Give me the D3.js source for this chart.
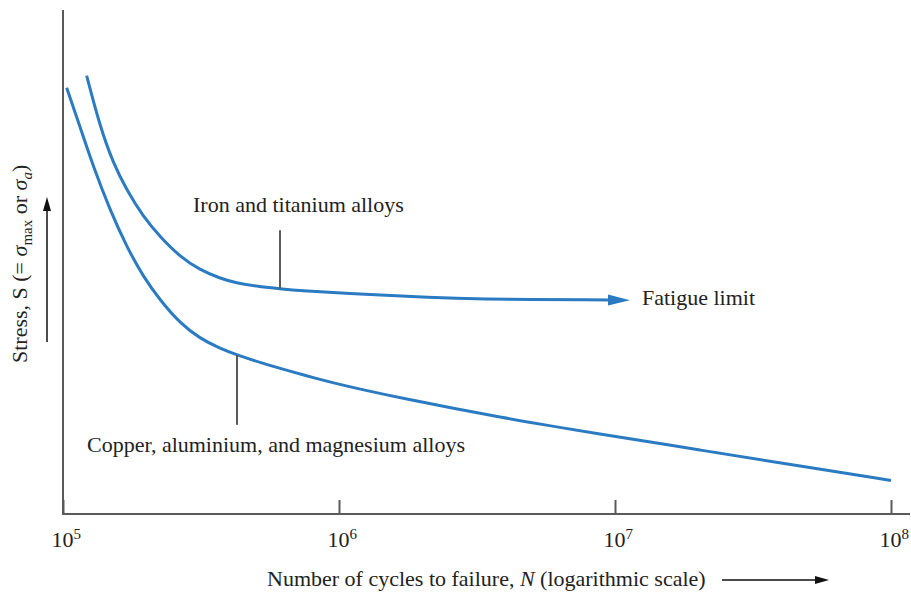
<!DOCTYPE html>
<html>
<head>
<meta charset="utf-8">
<script src="https://cdn.jsdelivr.net/npm/d3@7"></script>
<style>
  html, body { margin: 0; padding: 0; background: #fff; }
  svg { display: block; font-family: 'Liberation Serif', 'Times New Roman', serif; }
  .curve { fill: none; stroke: #2a7bc1; stroke-width: 3; }
  .axis-line, .leader { stroke: #5a5a5a; stroke-width: 2; }
</style>
</head>
<body>
<svg id="chart" width="911" height="597"></svg>
<script>
// S-N curves, stress in arbitrary units (0-100), cycles on log scale
const ironCycles = [1.218e5, 1.362e5, 1.521e5, 1.701e5, 1.954e5, 2.246e5, 2.654e5, 3.136e5, 3.706e5,
  4.26e5, 5.175e5, 6.113e5, 7.224e5, 1.008e6, 2.322e6, 2.91e6, 9.43e6];
const ironStress = [86.97, 76.85, 69.58, 64.29, 58.99, 55.02, 51.05, 48.41, 46.77,
  45.77, 45.1, 44.7, 44.31, 43.85, 42.86, 42.66, 42.46];

const copperCycles = [1.031e5, 1.152e5, 1.288e5, 1.48e5, 1.701e5, 1.954e5, 2.246e5, 2.654e5, 3.136e5,
  3.706e5, 4.27e5, 5.175e5, 6.81e5, 8.05e5, 1.017e6, 1.663e6, 3.831e6, 8.825e6, 2.032e7, 4.681e7, 1.0e8];
const copperStress = [84.58, 76.85, 68.91, 60.32, 53.04, 47.08, 42.46, 37.84, 34.82,
  32.84, 31.55, 30.06, 28.17, 27.08, 25.6, 23.02, 19.15, 15.87, 12.7, 9.52, 6.65];

const tickValues = [1e5, 1e6, 1e7, 1e8];
const tickExponents = ['5', '6', '7', '8'];

// leader lines: [cycles, stress at curve, stress at label end]
const ironLeader = [6.113e5, 44.7, 56.3];
const copperLeader = [4.27e5, 31.55, 17.7];

const width = 911;
const height = 597;
const x0 = 63;
const x1 = 891;
const yTop = 10;
const yBase = 514;

const svg = d3.select('#chart');

const x = d3.scaleLog().domain([1e5, 1e8]).range([x0, x1]);
const y = d3.scaleLinear().domain([0, 100]).range([yBase, yTop]);

const defs = svg.append('defs');
defs.append('marker')
  .attr('id', 'blue-head')
  .attr('markerUnits', 'userSpaceOnUse')
  .attr('markerWidth', 22)
  .attr('markerHeight', 12)
  .attr('refX', 0)
  .attr('refY', 6)
  .attr('orient', 'auto')
  .append('path')
  .attr('d', 'M0,0.5 L22,6 L0,11.5 Z')
  .attr('fill', '#2a7bc1');

defs.append('marker')
  .attr('id', 'black-head')
  .attr('markerUnits', 'userSpaceOnUse')
  .attr('markerWidth', 14)
  .attr('markerHeight', 10)
  .attr('refX', 0)
  .attr('refY', 5)
  .attr('orient', 'auto')
  .append('path')
  .attr('d', 'M0,1 L14,5 L0,9 Z')
  .attr('fill', '#111');

// axes
svg.append('line')
  .attr('class', 'axis-line')
  .attr('x1', x0).attr('x2', x0)
  .attr('y1', yTop).attr('y2', yBase + 1);

svg.append('line')
  .attr('class', 'axis-line')
  .attr('x1', x0 - 1).attr('x2', 910)
  .attr('y1', yBase).attr('y2', yBase);

const xAxis = svg.append('g')
  .attr('transform', `translate(0,${yBase})`)
  .call(d3.axisBottom(x).tickValues(tickValues).tickSizeInner(-14).tickSizeOuter(0).tickFormat(''));
xAxis.select('.domain').remove();
xAxis.selectAll('.tick line').attr('stroke', '#5a5a5a').attr('stroke-width', 2);

const tickLabels = svg.append('g').attr('font-size', 22).attr('fill', '#222');
tickValues.forEach((v, i) => {
  const t = tickLabels.append('text')
    .attr('x', x(v) - 11.5)
    .attr('y', 547);
  t.append('tspan').text('10');
  t.append('tspan').attr('font-size', 15).attr('dy', -8).text(tickExponents[i]);
});

// curves (basis spline smooths out reading noise)
const line = d3.line()
  .x((d) => x(d[0]))
  .y((d) => y(d[1]))
  .curve(d3.curveBasis);

svg.append('path')
  .datum(d3.zip(copperCycles, copperStress))
  .attr('class', 'curve')
  .attr('d', line);

svg.append('path')
  .datum(d3.zip(ironCycles, ironStress))
  .attr('class', 'curve')
  .attr('marker-end', 'url(#blue-head)')
  .attr('d', line);

// leaders
[ironLeader, copperLeader].forEach(([n, s0, s1]) => {
  svg.append('line')
    .attr('class', 'leader')
    .attr('x1', x(n)).attr('x2', x(n))
    .attr('y1', y(s0)).attr('y2', y(s1));
});

// annotation texts
const notes = svg.append('g').attr('font-size', 22).attr('fill', '#222');
notes.append('text').attr('x', 193).attr('y', 212).text('Iron and titanium alloys');
notes.append('text').attr('x', 642).attr('y', 305).text('Fatigue limit');
notes.append('text').attr('x', 87).attr('y', 452).text('Copper, aluminium, and magnesium alloys');

// x label
const xLabel = svg.append('text')
  .attr('x', 267)
  .attr('y', 586)
  .attr('font-size', 22)
  .attr('fill', '#222');
xLabel.append('tspan').text('Number of cycles to failure, ');
xLabel.append('tspan').attr('font-style', 'italic').text('N');
xLabel.append('tspan').text(' (logarithmic scale)');

svg.append('line')
  .attr('x1', 722).attr('x2', 815)
  .attr('y1', 580).attr('y2', 580)
  .attr('stroke', '#111').attr('stroke-width', 1.5)
  .attr('marker-end', 'url(#black-head)');

// y label
const yLabel = svg.append('text')
  .attr('transform', 'translate(27,363) rotate(-90)')
  .attr('font-size', 22)
  .attr('fill', '#222');
yLabel.append('tspan').text('Stress, S (= ');
yLabel.append('tspan').attr('font-style', 'italic').text('σ');
yLabel.append('tspan').attr('font-size', 15).attr('dy', 5).text('max');
yLabel.append('tspan').attr('dy', -5).text(' or ');
yLabel.append('tspan').attr('font-style', 'italic').text('σ');
yLabel.append('tspan').attr('font-size', 15).attr('font-style', 'italic').attr('dy', 5).text('a');
yLabel.append('tspan').attr('dy', -5).text(')');

svg.append('line')
  .attr('x1', 47).attr('x2', 47)
  .attr('y1', 342).attr('y2', 211)
  .attr('stroke', '#111').attr('stroke-width', 1.5)
  .attr('marker-end', 'url(#black-head)');
</script>
</body>
</html>
